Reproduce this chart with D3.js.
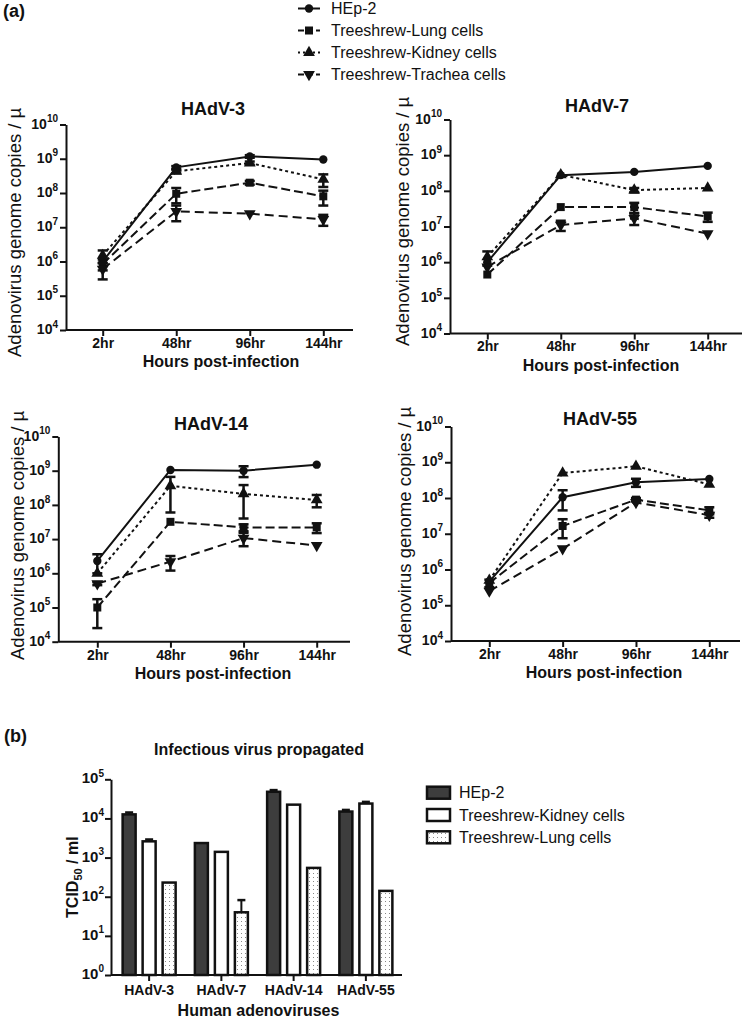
<!DOCTYPE html>
<html><head><meta charset="utf-8">
<script src="https://cdn.jsdelivr.net/npm/d3@7"></script>
<style>
body{margin:0;background:#fff}
svg{display:block}
text{font-family:"Liberation Sans",Arial,Helvetica,sans-serif;fill:#111}
</style>
</head><body>
<svg id="chart" width="750" height="1024"></svg>
<script>
// ---------------- DATA ----------------
const timepoints = ["2hr", "48hr", "96hr", "144hr"];
const lineSeries = ["HEp-2", "Treeshrew-Lung cells", "Treeshrew-Kidney cells", "Treeshrew-Trachea cells"];
const panelTitles = ["HAdV-3", "HAdV-7", "HAdV-14", "HAdV-55"];
const yTickExponents = [4, 5, 6, 7, 8, 9, 10];

// genome copies, rows follow lineSeries order
const hadv3Mean = [[1.0e6, 5.6e8, 1.17e9, 9.5e8], [8.5e5, 9.5e7, 2.0e8, 8.0e7], [1.5e6, 4.3e8, 7.5e8, 2.5e8], [6.0e5, 2.9e7, 2.5e7, 1.7e7]];
const hadv3Sem  = [[0, 5e7, 1e8, 0], [3e5, 4.5e7, 2.5e7, 3.7e7], [6e5, 5e7, 8e7, 1e8], [3e5, 1.4e7, 0, 6e6]];
const hadv7Mean = [[1.0e6, 2.75e8, 3.4e8, 5.0e8], [4.5e5, 3.5e7, 3.5e7, 1.9e7], [1.4e6, 2.8e8, 1.05e8, 1.2e8], [7.4e5, 1.1e7, 1.7e7, 6.3e6]];
const hadv7Sem  = [[0, 0, 0, 0], [0, 0, 1.1e7, 5.5e6], [6e5, 0, 1.5e7, 0], [0, 3.5e6, 6e6, 0]];
const hadv14Mean = [[2.3e6, 1.05e9, 1.0e9, 1.5e9], [1.0e5, 3.2e7, 2.2e7, 2.2e7], [1.0e6, 3.6e8, 2.1e8, 1.4e8], [5.0e5, 2.2e6, 1.07e7, 6.5e6]];
const hadv14Sem  = [[1.3e6, 0, 3.5e8, 0], [7.5e4, 0, 5e6, 7e6], [0, 3e8, 1.7e8, 5.5e7], [5e4, 1e6, 4.5e6, 0]];
const hadv55Mean = [[4.6e5, 1.05e8, 2.75e8, 3.4e8], [4.2e5, 1.65e7, 9.0e7, 4.5e7], [5.0e5, 5.0e8, 7.7e8, 2.4e8], [2.5e5, 3.8e6, 7.5e7, 3.3e7]];
const hadv55Sem  = [[0, 6e7, 7e7, 0], [1e5, 9e6, 1e7, 1e7], [0, 0, 0, 0], [0, 0, 0, 5e6]];

// infectious titre (TCID50/ml)
const barGroups = ["HAdV-3", "HAdV-7", "HAdV-14", "HAdV-55"];
const barSeries = ["HEp-2", "Treeshrew-Kidney cells", "Treeshrew-Lung cells"];
const hep2Titre   = [1.27e4, 2.35e3, 4.8e4, 1.5e4];
const hep2Sem     = [1.5e3, 0, 5e3, 1.5e3];
const kidneyTitre = [2.6e3, 1.4e3, 2.25e4, 2.4e4];
const kidneySem   = [3e2, 0, 0, 2.5e3];
const lungTitre   = [230, 40, 545, 141];
const lungSem     = [0, 42, 0, 0];
const barTickExponents = [0, 1, 2, 3, 4, 5];

// ---------------- DRAW ----------------
const svg = d3.select("#chart");
const defs = svg.append("defs");
const pat = defs.append("pattern").attr("id", "dots").attr("patternUnits", "userSpaceOnUse")
  .attr("width", 4).attr("height", 4);
pat.append("rect").attr("width", 4).attr("height", 4).attr("fill", "#fff");
pat.append("rect").attr("x", 1).attr("y", 1).attr("width", 1).attr("height", 1).attr("fill", "#888");

const seriesStyle = [
  {dash: null, sym: d3.symbolCircle, size: 55, rot: 0},
  {dash: "9,4", sym: d3.symbolSquare, size: 64, rot: 0},
  {dash: "3,3", sym: d3.symbolTriangle, size: 60, rot: 0},
  {dash: "9,5", sym: d3.symbolTriangle, size: 60, rot: 180}
];

function powLabel(sel, exp, size, supSize) {
  sel.append("tspan").text("10").attr("font-size", size);
  sel.append("tspan").text(exp).attr("font-size", supSize).attr("dy", -size * 0.45);
}

// panel (a) label and legend
svg.append("text").attr("x", 3).attr("y", 17).attr("font-size", 18).attr("font-weight", "bold").text("(a)");
const leg = svg.append("g");
const legRows = [8.5, 30.5, 52.5, 74.5];
lineSeries.forEach((name, i) => {
  const g = leg.append("g").attr("transform", `translate(0,${legRows[i]})`);
  g.append("line").attr("x1", 298).attr("x2", 320).attr("stroke", "#111").attr("stroke-width", 2)
    .attr("stroke-dasharray", i === 0 ? null : (i === 2 ? "2,3" : "6,3"));
  g.append("path").attr("d", d3.symbol().type(seriesStyle[i].sym).size(seriesStyle[i].size)())
    .attr("transform", `translate(309,0) rotate(${seriesStyle[i].rot})`).attr("fill", "#111");
  g.append("text").attr("x", 331).attr("dy", "0.35em").attr("font-size", 16).text(name);
});

const panels = [
  {mean: hadv3Mean, sem: hadv3Sem, left: 66, right: 353, top: 124.5, bottom: 330, x0: 102.7, x1: 323.3, tx: 213, ty: 115, ytx: 21, yty: 357, xtx: 221},
  {mean: hadv7Mean, sem: hadv7Sem, left: 450, right: 742, top: 119.5, bottom: 333.5, x0: 487.3, x1: 707.7, tx: 597, ty: 112, ytx: 409, yty: 346, xtx: 601},
  {mean: hadv14Mean, sem: hadv14Sem, left: 58.3, right: 350, top: 436.5, bottom: 641.7, x0: 97.3, x1: 316.7, tx: 211, ty: 430, ytx: 24, yty: 660, xtx: 213},
  {mean: hadv55Mean, sem: hadv55Sem, left: 451, right: 740, top: 426.5, bottom: 641, x0: 489.3, x1: 709.3, tx: 600, ty: 425, ytx: 411, yty: 656, xtx: 604}
];

panels.forEach((p, pi) => {
  const g = svg.append("g");
  const x = d3.scalePoint().domain(timepoints).range([p.x0, p.x1]);
  const y = d3.scaleLog().domain([1e4, 1e10]).range([p.bottom, p.top]);

  // axes
  const ya = g.append("g").attr("transform", `translate(${p.left},0)`)
    .call(d3.axisLeft(y).tickValues(yTickExponents.map(e => Math.pow(10, e))).tickSize(6).tickSizeOuter(0).tickFormat(""));
  ya.selectAll(".tick").each(function(d) {
    const t = d3.select(this).append("text").attr("x", -8).attr("dy", "0.35em")
      .attr("text-anchor", "end").attr("font-weight", "bold").attr("fill", "#111");
    powLabel(t, Math.round(Math.log10(d)), 14, 10);
  });
  const xa = g.append("g").attr("transform", `translate(0,${p.bottom})`)
    .call(d3.axisBottom(x).tickSize(6).tickSizeOuter(0));
  xa.select(".domain").attr("d", `M${p.left},0H${p.right}`);
  xa.selectAll(".tick text").attr("font-size", 14).attr("font-weight", "bold").attr("y", 8)
    .attr("font-family", '"Liberation Sans",Arial,sans-serif').attr("fill", "#111");
  g.selectAll(".domain, .tick line").attr("stroke", "#111").attr("stroke-width", 2);

  // titles
  g.append("text").attr("x", p.tx).attr("y", p.ty).attr("text-anchor", "middle")
    .attr("font-size", 18).attr("font-weight", "bold").text(panelTitles[pi]);
  g.append("text").attr("x", p.xtx).attr("y", p.bottom + 37).attr("text-anchor", "middle")
    .attr("font-size", 16).attr("font-weight", "bold").text("Hours post-infection");
  g.append("text").attr("transform", `translate(${p.ytx},${p.yty}) rotate(-90)`)
    .attr("font-size", 18.5).text("Adenovirus genome copies / µ");

  // lines
  const line = d3.line().x((d, i) => x(timepoints[i])).y(d => y(d));
  p.mean.forEach((vals, si) => {
    g.append("path").datum(vals).attr("d", line).attr("fill", "none")
      .attr("stroke", "#111").attr("stroke-width", 2)
      .attr("stroke-dasharray", seriesStyle[si].dash);
  });
  // error bars
  p.mean.forEach((vals, si) => {
    vals.forEach((v, i) => {
      const s = p.sem[si][i];
      if (!s) return;
      const cx = x(timepoints[i]);
      const lo = y(Math.max(v - s, 1e4)), hi = y(v + s);
      g.append("line").attr("x1", cx).attr("x2", cx).attr("y1", lo).attr("y2", hi)
        .attr("stroke", "#111").attr("stroke-width", 2.5);
      [lo, hi].forEach(yy => g.append("line").attr("x1", cx - 5).attr("x2", cx + 5)
        .attr("y1", yy).attr("y2", yy).attr("stroke", "#111").attr("stroke-width", 2.5));
    });
  });
  // markers
  p.mean.forEach((vals, si) => {
    const st = seriesStyle[si];
    g.selectAll(null).data(vals).enter().append("path")
      .attr("d", d3.symbol().type(st.sym).size(st.size)())
      .attr("transform", (d, i) => `translate(${x(timepoints[i])},${y(d)}) rotate(${st.rot})`)
      .attr("fill", "#111");
  });
});

// ---------------- panel (b) ----------------
svg.append("text").attr("x", 4).attr("y", 742).attr("font-size", 18).attr("font-weight", "bold").text("(b)");
const bLeft = 111, bRight = 402, bTop = 779.3, bBottom = 975;
const bg = svg.append("g");
const bx = d3.scaleBand().domain(barGroups).range([113, 402]);
const bxi = d3.scaleBand().domain(barSeries).range([0, 53]).paddingInner(0.35);
const by = d3.scaleLog().domain([1, 1e5]).range([bBottom, bTop]);
const barVals = [hep2Titre, kidneyTitre, lungTitre];
const barSems = [hep2Sem, kidneySem, lungSem];
const barFill = ["#3d3d3d", "#ffffff", "url(#dots)"];

barSeries.forEach((name, si) => {
  barGroups.forEach((grp, gi) => {
    const v = barVals[si][gi];
    const bx0 = bx(grp) + (bx.bandwidth() - 53) / 2 + bxi(name);
    const s = barSems[si][gi];
    if (s) {
      const cx = bx0 + bxi.bandwidth() / 2;
      bg.append("line").attr("x1", cx).attr("x2", cx).attr("y1", by(v)).attr("y2", by(v + s))
        .attr("stroke", "#111").attr("stroke-width", 2);
      bg.append("line").attr("x1", cx - 4).attr("x2", cx + 4).attr("y1", by(v + s)).attr("y2", by(v + s))
        .attr("stroke", "#111").attr("stroke-width", 2.5);
    }
    bg.append("rect").attr("x", bx0).attr("y", by(v)).attr("width", bxi.bandwidth())
      .attr("height", bBottom - by(v)).attr("fill", barFill[si]).attr("stroke", "#111").attr("stroke-width", 2.5);
  });
});

const bya = bg.append("g").attr("transform", `translate(${bLeft},0)`)
  .call(d3.axisLeft(by).tickValues(barTickExponents.map(e => Math.pow(10, e))).tickSize(6).tickSizeOuter(0).tickFormat(""));
bya.selectAll(".tick").each(function(d) {
  const t = d3.select(this).append("text").attr("x", -7).attr("dy", "0.35em")
    .attr("text-anchor", "end").attr("font-weight", "bold").attr("fill", "#111");
  powLabel(t, Math.round(Math.log10(d)), 15, 10);
});
const bxa = bg.append("g").attr("transform", `translate(0,${bBottom})`)
  .call(d3.axisBottom(bx).tickSize(6).tickSizeOuter(0));
bxa.select(".domain").attr("d", `M${bLeft},0H${bRight}`);
bxa.selectAll(".tick text").attr("font-size", 14).attr("font-weight", "bold").attr("y", 10)
  .attr("font-family", '"Liberation Sans",Arial,sans-serif').attr("fill", "#111");
bg.selectAll(".domain, .tick line").attr("stroke", "#111").attr("stroke-width", 2);

bg.append("text").attr("x", 259).attr("y", 755).attr("text-anchor", "middle")
  .attr("font-size", 16).attr("font-weight", "bold").text("Infectious virus propagated");
bg.append("text").attr("x", (bLeft + bRight) / 2 + 2).attr("y", 1016).attr("text-anchor", "middle")
  .attr("font-size", 16).attr("font-weight", "bold").text("Human adenoviruses");
const yt = bg.append("text").attr("transform", `translate(78,${(bTop + bBottom) / 2}) rotate(-90)`)
  .attr("text-anchor", "middle").attr("font-size", 16).attr("font-weight", "bold");
yt.append("tspan").text("TCID");
yt.append("tspan").text("50").attr("font-size", 11).attr("dy", 4);
yt.append("tspan").text(" / ml").attr("dy", -4);

// bar legend
const blRows = [792.7, 815, 837.3];
barSeries.forEach((name, i) => {
  bg.append("rect").attr("x", 427).attr("y", blRows[i] - 6).attr("width", 23).attr("height", 12)
    .attr("fill", barFill[i]).attr("stroke", "#111").attr("stroke-width", 2.5);
  bg.append("text").attr("x", 459).attr("y", blRows[i]).attr("dy", "0.35em").attr("font-size", 16).text(name);
});
</script>
</body></html>
